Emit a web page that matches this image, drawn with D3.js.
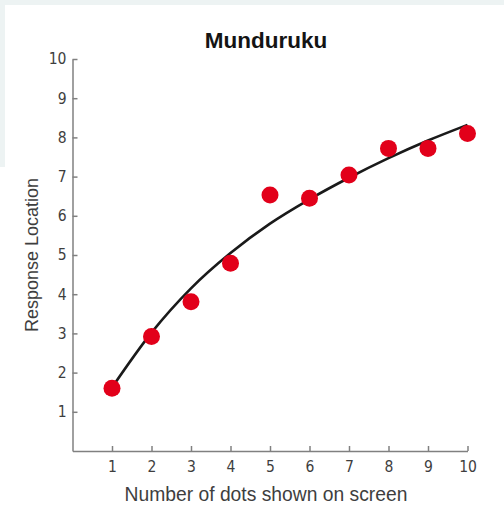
<!DOCTYPE html>
<html>
<head>
<meta charset="utf-8">
<script src="https://cdn.jsdelivr.net/npm/d3@7"></script>
<style>
  html, body { margin: 0; padding: 0; background: #ffffff; }
  svg { display: block; }
</style>
</head>
<body>
<script>
// Munduruku: mean response location for each number of dots shown
const dotCounts = [1, 2, 3, 4, 5, 6, 7, 8, 9, 10];
const responses = [1.60, 2.92, 3.81, 4.79, 6.53, 6.45, 7.04, 7.72, 7.72, 8.10];

// Fitted curve, sampled at each dot count
const fitX = [1, 2, 3, 4, 5, 6, 7, 8, 9, 10];
const fitY = [1.62, 3.02, 4.15, 5.05, 5.80, 6.42, 6.97, 7.47, 7.92, 8.32];

const xTicks = [1, 2, 3, 4, 5, 6, 7, 8, 9, 10];
const yTicks = [1, 2, 3, 4, 5, 6, 7, 8, 9, 10];

const title = "Munduruku";
const xTitle = "Number of dots shown on screen";
const yTitle = "Response Location";

const W = 504, H = 507;

const svg = d3.select("body").append("svg")
  .attr("width", W)
  .attr("height", H);

// page frame: tinted strips along the top and upper-left edge
svg.append("rect").attr("x", 0).attr("y", 0).attr("width", W).attr("height", H).attr("fill", "#ffffff");
svg.append("rect").attr("x", 0).attr("y", 0).attr("width", W).attr("height", 5).attr("fill", "#edf3f3");
svg.append("rect").attr("x", 0).attr("y", 0).attr("width", 5).attr("height", 167).attr("fill", "#edf3f3");

const x = d3.scaleLinear().domain([0, 10]).range([72.5, 467.5]);
const y = d3.scaleLinear().domain([0, 10]).range([451, 59]);

const axisColor = "#808080";
const labelColor = "#3e3e3e";
const tickFont = "'DejaVu Sans Condensed', 'DejaVu Sans', sans-serif";

// y axis (ticks point inward)
const gy = svg.append("g")
  .attr("transform", `translate(${x(0)},0)`)
  .call(d3.axisLeft(y).tickValues(yTicks).tickSizeInner(-5).tickSizeOuter(0).tickPadding(6));

// x axis (ticks point inward)
const gx = svg.append("g")
  .attr("transform", `translate(0,${y(0)})`)
  .call(d3.axisBottom(x).tickValues(xTicks).tickSizeInner(-5).tickSizeOuter(0).tickPadding(10));

[gx, gy].forEach(g => {
  g.select(".domain").attr("stroke", axisColor).attr("stroke-width", 1.5);
  g.selectAll(".tick line").attr("stroke", axisColor).attr("stroke-width", 1.5);
  g.selectAll(".tick text")
    .attr("fill", labelColor)
    .style("font-family", tickFont)
    .style("font-size", "15.5px");
});

// fitted curve
const fit = fitX.map((v, i) => [v, fitY[i]]);
svg.append("path")
  .datum(fit)
  .attr("fill", "none")
  .attr("stroke", "#1a1a1a")
  .attr("stroke-width", 2.6)
  .attr("d", d3.line().x(d => x(d[0])).y(d => y(d[1])).curve(d3.curveMonotoneX));

// data points
svg.append("g")
  .selectAll("circle")
  .data(dotCounts.map((v, i) => [v, responses[i]]))
  .join("circle")
  .attr("cx", d => x(d[0]))
  .attr("cy", d => y(d[1]))
  .attr("r", 8.5)
  .attr("fill", "#e2001a");

// title
svg.append("text")
  .attr("x", 266)
  .attr("y", 48)
  .attr("text-anchor", "middle")
  .attr("fill", "#141414")
  .style("font-family", "'Liberation Sans', Arial, sans-serif")
  .style("font-weight", "bold")
  .style("font-size", "22.5px")
  .text(title);

// axis titles
svg.append("text")
  .attr("x", 266)
  .attr("y", 501)
  .attr("text-anchor", "middle")
  .attr("fill", labelColor)
  .style("font-family", "'Liberation Sans', Arial, sans-serif")
  .style("font-size", "19.3px")
  .text(xTitle);

svg.append("text")
  .attr("transform", "translate(38,255) rotate(-90)")
  .attr("text-anchor", "middle")
  .attr("fill", labelColor)
  .style("font-family", "'Liberation Sans', Arial, sans-serif")
  .style("font-size", "18px")
  .text(yTitle);
</script>
</body>
</html>
